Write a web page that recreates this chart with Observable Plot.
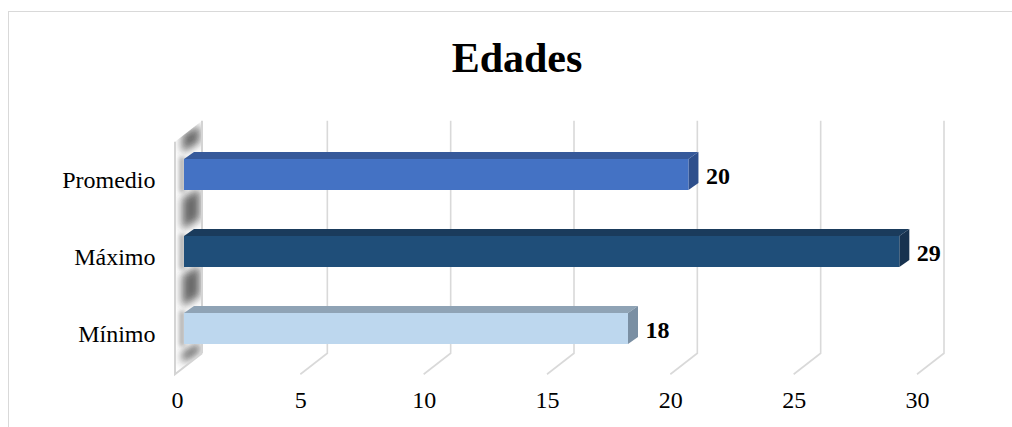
<!DOCTYPE html>
<html><head><meta charset="utf-8">
<script src="https://cdn.jsdelivr.net/npm/d3@7"></script>
<script src="https://cdn.jsdelivr.net/npm/@observablehq/plot@0.6"></script>
<style>
html,body{margin:0;padding:0;background:#fff;width:1012px;height:427px;overflow:hidden;}
#frame{position:absolute;left:8px;top:11px;width:1100px;height:500px;border-left:1.5px solid #d9d9d9;border-top:1.5px solid #d9d9d9;}
#title{position:absolute;left:0;top:37px;width:1034px;text-align:center;font:bold 42px "Liberation Serif","Times New Roman",serif;line-height:1;color:#000;}
#chart{position:absolute;left:0;top:100px;}
</style></head><body>
<div id="frame"></div>
<div id="title"></div>
<div id="chart"></div>
<script>
const title = "Edades";
const categories = ["Promedio", "Máximo", "Mínimo"];
const values = [20.45, 29, 18];
const frontColors = ["#4472C4", "#1F4E79", "#BDD7EE"];
const topColors = ["#36599A", "#1A3B5C", "#8FA3B5"];
const sideColors = ["#2E4F8C", "#17324F", "#7A8FA3"];
const xTicks = [0, 5, 10, 15, 20, 25, 30];
const xDomain = [0, 30];

const data = categories.map((c, i) => ({cat: c, value: values[i], front: frontColors[i], top: topColors[i], side: sideColors[i]}));
const fmt = d3.format(".0f");

// 3D perspective offsets (pixels)
const DEPTH_X = 27, DEPTH_Y = 21;     // full depth of the plot box
const BAR_SHIFT = 7;                   // bar front face shift from front plane
const BAR_DX = 10, BAR_DY = 7;         // bar depth

document.getElementById("title").textContent = title;

const gridMark = (index, scales, values_, dims) => {
  const x = scales.x;
  const r0 = dims.marginTop, r1 = dims.height - dims.marginBottom;
  const g = d3.create("svg:g");
  xTicks.filter(v => v !== 0).forEach(v => {
    const xf = x(v);
    g.append("path")
      .attr("d", `M${xf + DEPTH_X},${r0 - 14}V${r1 - 14}L${xf},${r1 + 7}`)
      .attr("fill", "none").attr("stroke", "#d9d9d9").attr("stroke-width", 1.6);
  });
  return g.node();
};

const wallMark = (index, scales, values_, dims) => {
  const x = scales.x, y = scales.y;
  const r0 = dims.marginTop, r1 = dims.height - dims.marginBottom;
  const x0 = x(0);
  const bw = y.bandwidth();
  const g = d3.create("svg:g");
  const defs = g.append("defs");
  defs.append("filter").attr("id", "wblur").attr("x", "-50%").attr("y", "-50%").attr("width", "200%").attr("height", "200%")
    .append("feGaussianBlur").attr("stdDeviation", 4.5);
  defs.append("filter").attr("id", "wblur2").attr("x", "-50%").attr("y", "-50%").attr("width", "200%").attr("height", "200%")
    .append("feGaussianBlur").attr("stdDeviation", 2);
  const pts = [[x0 - 2, r0 + 7], [x0 + 25, r0 - 14], [x0 + 25, r1 - 14], [x0 - 2, r1 + 7]];
  defs.append("clipPath").attr("id", "wclip").append("polygon").attr("points", pts.map(p => p.join(",")).join(" "));
  g.append("polygon").attr("points", pts.map(p => p.join(",")).join(" ")).attr("fill", "#ffffff");
  const sg = g.append("g").attr("clip-path", "url(#wclip)");
  // shadows in the gaps between bars
  const tops = categories.map(c => y(c));
  const gaps = [[r0 - 8, tops[0]]];
  for (let i = 1; i < tops.length; i++) gaps.push([tops[i - 1] + bw, tops[i]]);
  gaps.push([tops[tops.length - 1] + bw, r1 + 2]);
  gaps.forEach(([a, b]) => {
    sg.append("polygon")
      .attr("points", `${x0 + 5},${b - 6} ${x0 + 23},${b - 17} ${x0 + 23},${a - 2} ${x0 + 5},${a + 8}`)
      .attr("fill", "#2e2e2e").attr("opacity", 0.72).attr("filter", "url(#wblur)");
  });
  // dark strip alongside each bar
  tops.forEach(t => {
    sg.append("rect").attr("x", x0 + 2).attr("y", t - 2).attr("width", 6).attr("height", bw + 4)
      .attr("fill", "#555").attr("opacity", 0.45).attr("filter", "url(#wblur2)");
  });
  // wall edges
  g.append("path")
    .attr("d", `M${x0 - 2},${r0 + 7}V${r1 + 7}L${x0 + 25},${r1 - 14}M${x0 + 25},${r0 - 14}V${r1 - 14}`)
    .attr("fill", "none").attr("stroke", "#d4d4d4").attr("stroke-width", 2);
  return g.node();
};

const barSidesMark = (index, scales, values_, dims) => {
  const x = scales.x, y = scales.y;
  const bw = y.bandwidth();
  const g = d3.create("svg:g");
  data.forEach(d => {
    const xa = x(0) + BAR_SHIFT, xb = x(d.value) + BAR_SHIFT;
    const yt = y(d.cat), yb = yt + bw;
    g.append("polygon")
      .attr("points", `${xa},${yt} ${xa + BAR_DX},${yt - BAR_DY} ${xb + BAR_DX},${yt - BAR_DY} ${xb},${yt}`)
      .attr("fill", d.top);
    g.append("polygon")
      .attr("points", `${xb},${yt} ${xb + BAR_DX},${yt - BAR_DY} ${xb + BAR_DX},${yb - BAR_DY} ${xb},${yb}`)
      .attr("fill", d.side);
  });
  return g.node();
};

const chart = Plot.plot({
  width: 1012,
  height: 327,
  marginLeft: 177,
  marginRight: 95,
  marginTop: 34.75,
  marginBottom: 59.75,
  style: {fontFamily: '"Liberation Serif", "Times New Roman", serif', fontSize: "24px", color: "#000", background: "transparent", overflow: "visible"},
  x: {domain: xDomain, axis: null},
  y: {domain: categories, type: "band", paddingInner: 0.6, paddingOuter: 0.3, axis: null},
  color: {type: "identity"},
  marks: [
    gridMark,
    wallMark,
    barSidesMark,
    Plot.barX(data, {x: "value", y: "cat", fill: "front", dx: BAR_SHIFT}),
    Plot.text(data, {x: "value", y: "cat", text: d => fmt(d.value), dx: BAR_SHIFT + 17, dy: 1.5, textAnchor: "start", fontWeight: "bold", fontSize: 24, fill: "#000"}),
    Plot.text(categories, {y: d => d, frameAnchor: "left", textAnchor: "end", dx: -22, dy: 5.5, fontSize: 24, fill: "#000"}),
    Plot.text(xTicks, {x: d => d, frameAnchor: "bottom", dy: 40, text: d => String(d), fontSize: 24, fill: "#000"})
  ]
});
document.getElementById("chart").appendChild(chart);
</script>
</body></html>
